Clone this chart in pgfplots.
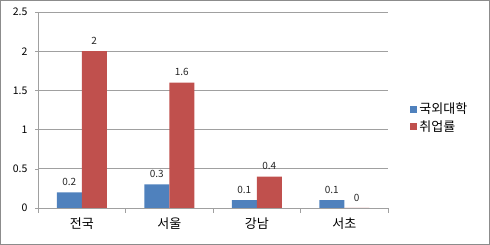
\documentclass[border=0pt]{standalone}
\usepackage{fontspec}
\setmainfont{Noto Sans CJK KR}
\usepackage{pgfplots}
\pgfplotsset{compat=1.18}
\definecolor{xlblue}{HTML}{4F81BD}
\definecolor{xlred}{HTML}{C0504D}
\definecolor{gridc}{HTML}{A0A0A0}
\begin{document}
\begin{tikzpicture}[x=1pt,y=1pt]
\draw[black!45, line width=1.2pt] (0.6,0.6) rectangle (489.4,244.4);
\begin{axis}[
  at={(38pt,37pt)}, anchor=south west,
  scale only axis, width=350pt, height=196pt,
  /pgf/number format/assume math mode=true,
  ybar=0pt, bar width=25pt,
  xmin=-0.5, xmax=3.5, ymin=0, ymax=2.5,
  xtick={0,1,2,3}, xticklabels={전국,서울,강남,서초},
  major x tick style={draw=none},
  minor xtick={-0.5,0.5,1.5,2.5,3.5},
  minor x tick style={gridc, line width=0.8pt},
  minor tick length=5pt,
  tick align=outside,
  ytick={0,0.5,1,1.5,2,2.5},
  yticklabels={0,0.5,1,1.5,2,2.5},
  major y tick style={gridc},
  major tick length=3pt,
  ymajorgrids, grid style={gridc, line width=0.8pt},
  axis x line*=bottom, axis y line*=left,
  axis line style={gridc, line width=0.8pt},
  x axis line style={-}, y axis line style={-},
  xticklabel style={font=\fontsize{13}{14}\selectfont, yshift=-3pt},
  yticklabel style={font=\fontsize{10.5}{11}\selectfont, xshift=-4pt},
  nodes near coords,
  every node near coord/.append style={font=\fontsize{10}{11}\selectfont, text=black!85, yshift=3pt},
  legend style={at={(1.055,0.46)}, anchor=west, draw=none, fill=none,
    font=\fontsize{13}{14}\selectfont, row sep=1pt,
    legend cell align=left},
  legend image code/.code={\fill[#1] (0pt,-3.5pt) rectangle (7pt,3.5pt);},
]
\addplot[fill=xlblue, draw=none] coordinates {(0,0.2) (1,0.3) (2,0.1) (3,0.1)};
\addplot[fill=xlred, draw=none] coordinates {(0,2) (1,1.6) (2,0.4) (3,0)};
\legend{국외대학,취업률}
\end{axis}
\end{tikzpicture}
\end{document}
